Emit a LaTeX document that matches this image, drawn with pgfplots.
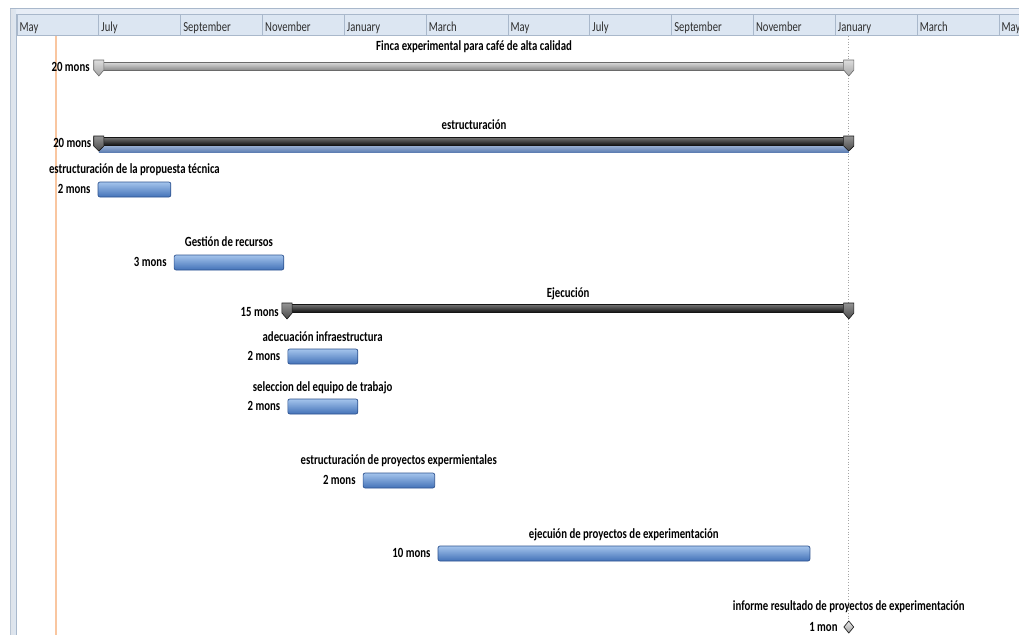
\documentclass[border=0pt]{standalone}
\usepackage{pgfplots}
\pgfplotsset{compat=1.18}
\usepackage{fontspec}
\setmainfont{Carlito}[FakeStretch=0.77]

\definecolor{hdr}{HTML}{DCE6F2}
\definecolor{hdrline}{HTML}{A9B8CB}
\definecolor{hdrtext}{HTML}{2E2E2E}
\definecolor{todayc}{HTML}{F9C6A0}
\definecolor{btop}{HTML}{A4C4EC}
\definecolor{bbot}{HTML}{4372B8}
\definecolor{bline}{HTML}{2E5390}
\definecolor{stop}{HTML}{7A7A7A}
\definecolor{sbot}{HTML}{151515}
\definecolor{gtop}{HTML}{DDDDDD}
\definecolor{gbot}{HTML}{8C8C8C}
\definecolor{gline}{HTML}{6A6A6A}
\definecolor{ptop}{HTML}{A9BDDB}
\definecolor{pbot}{HTML}{5F7FB3}

\newcommand{\taskbar}[4]{%
  \addplot[draw=bline, line width=0.7pt, top color=btop, bottom color=bbot, rounded corners=2pt]
    coordinates {(#1,#3) (#2,#3) (#2,#4) (#1,#4)} -- cycle;}
% left x, centre x, right x, top, shoulder, point, style
\newcommand{\sumcap}[7]{%
  \addplot[#7] coordinates {(#1,#4) (#3,#4) (#3,#5) (#2,#6) (#1,#5)} -- cycle;}
\newcommand{\monthcol}[2]{%
  \draw[hdrline, line width=0.8pt] (axis cs:#1,14) -- (axis cs:#1,35.5);
  \node[anchor=base west, inner sep=0pt, text=hdrtext, font=\fontsize{13.8}{15}\selectfont] at (axis cs:#1+0.06,31.5) {#2};}

\tikzset{lab/.style={font=\bfseries\fontsize{14}{16}\selectfont, text=black, inner sep=0pt, text height=7.2pt, text depth=2.2pt, yshift=-1.8pt},
         dur/.style={lab, anchor=east}}

\begin{document}
\begin{tikzpicture}
\begin{axis}[
  width=1019pt, height=635pt, scale only axis,
  xmin=-0.4155, xmax=24.49, ymin=0, ymax=635, y dir=reverse,
  axis lines=none, clip=false,
]
\coordinate (SW) at (axis cs:-0.4155,635);
\coordinate (NE) at (axis cs:24.49,0);
% background frame
\fill[white] (axis cs:-0.4155,0) rectangle (axis cs:24.49,635);
\fill[hdr!70!white] (axis cs:-0.17,9) rectangle (axis cs:24.49,14);
\draw[hdrline, line width=1pt] (axis cs:-0.17,8.5) -- (axis cs:24.49,8.5);
\fill[hdr] (axis cs:-0.024,14) rectangle (axis cs:24.49,35.5);
\draw[hdrline, line width=0.8pt] (axis cs:-0.024,14) -- (axis cs:24.49,14);
\draw[hdrline, line width=0.8pt] (axis cs:-0.024,35.5) -- (axis cs:24.49,35.5);
\fill[left color=hdr!80!gray!60, right color=hdr] (axis cs:-0.16,9) rectangle (axis cs:-0.024,635);
\draw[hdrline, line width=0.8pt] (axis cs:-0.024,14) -- (axis cs:-0.024,635);
\draw[hdrline!80!white, line width=0.6pt] (axis cs:-0.16,9) -- (axis cs:-0.16,635);
\monthcol{0}{May}
\monthcol{2}{July}
\monthcol{4}{September}
\monthcol{6}{November}
\monthcol{8}{January}
\monthcol{10}{March}
\monthcol{12}{May}
\monthcol{14}{July}
\monthcol{16}{September}
\monthcol{18}{November}
\monthcol{20}{January}
\monthcol{22}{March}
\monthcol{24}{May}
% today line and project end line
\draw[todayc, line width=1.2pt] (axis cs:0.953,36) -- (axis cs:0.953,635);
\draw[gray!70, line width=0.8pt, dotted] (axis cs:20.33,36) -- (axis cs:20.33,635);

% Finca experimental (project summary)
\addplot[draw=gline, line width=0.8pt, top color=gtop, bottom color=gbot] coordinates {(2.0,62) (20.33,62) (20.33,70) (2.0,70)} -- cycle;
\sumcap{1.875}{2.0}{2.125}{60}{70}{76}{draw=gline, line width=0.6pt, top color=gtop, bottom color=gbot!80}
\sumcap{20.205}{20.33}{20.455}{60}{70}{76}{draw=gline, line width=0.6pt, top color=gtop, bottom color=gbot!80}
\node[lab] at (axis cs:11.17,46) {Finca experimental para café de alta calidad};
\node[dur] at (axis cs:1.78,67) {20 mons};

% estructuracion (summary)
\addplot[draw=none, top color=ptop, bottom color=pbot] coordinates {(2.0,144) (20.33,144) (20.33,152) (2.0,152)} -- cycle;
\addplot[draw=sbot, line width=0.6pt, top color=stop, bottom color=sbot] coordinates {(2.0,137) (20.33,137) (20.33,145) (2.0,145)} -- cycle;
\sumcap{1.875}{2.0}{2.125}{136}{146}{151}{draw=sbot, line width=0.6pt, top color=stop!80!white, bottom color=stop!60!black}
\sumcap{20.205}{20.33}{20.455}{136}{146}{151}{draw=sbot, line width=0.6pt, top color=stop!80!white, bottom color=stop!60!black}
\node[lab] at (axis cs:11.17,125) {estructuración};
\node[dur] at (axis cs:1.82,143) {20 mons};

% estructuracion de la propuesta tecnica
\taskbar{1.98}{3.76}{182}{197}
\node[lab] at (axis cs:2.87,169) {estructuración de la propuesta técnica};
\node[dur] at (axis cs:1.80,189) {2 mons};

% Gestion de recursos
\taskbar{3.84}{6.52}{255}{270}
\node[lab] at (axis cs:5.18,242) {Gestión de recursos};
\node[dur] at (axis cs:3.66,262) {3 mons};

% Ejecucion (summary)
\addplot[draw=sbot, line width=0.6pt, top color=stop, bottom color=sbot] coordinates {(6.6,304) (20.33,304) (20.33,312) (6.6,312)} -- cycle;
\sumcap{6.475}{6.6}{6.725}{303}{313}{319}{draw=sbot, line width=0.6pt, top color=stop!80!white, bottom color=stop!60!black}
\sumcap{20.205}{20.33}{20.455}{303}{313}{319}{draw=sbot, line width=0.6pt, top color=stop!80!white, bottom color=stop!60!black}
\node[lab] at (axis cs:13.47,293) {Ejecución};
\node[dur] at (axis cs:6.40,312) {15 mons};

% adecuacion infraestructura
\taskbar{6.62}{8.33}{349}{364}
\node[lab] at (axis cs:7.47,337) {adecuación infraestructura};
\node[dur] at (axis cs:6.44,356) {2 mons};

% seleccion del equipo de trabajo
\taskbar{6.62}{8.33}{399}{414}
\node[lab] at (axis cs:7.47,387) {seleccion del equipo de trabajo};
\node[dur] at (axis cs:6.44,406) {2 mons};

% estructuracion de proyectos expermientales
\taskbar{8.46}{10.21}{473}{488}
\node[lab] at (axis cs:9.33,460) {estructuración de proyectos expermientales};
\node[dur] at (axis cs:8.28,480) {2 mons};

% ejecucion de proyectos de experimentacion
\taskbar{10.29}{19.38}{546}{561}
\node[lab] at (axis cs:14.83,534) {ejecuión de proyectos de experimentación};
\node[dur] at (axis cs:10.11,553) {10 mons};

% informe (milestone)
\addplot[draw=gray!30!black, line width=0.7pt, top color=gray!15, bottom color=gray!75] coordinates {(20.21,627) (20.33,621) (20.45,627) (20.33,633)} -- cycle;
\node[lab] at (axis cs:20.33,606) {informe resultado de proyectos de experimentación};
\node[dur] at (axis cs:20.06,627) {1 mon};
\end{axis}
\pgfresetboundingbox
\useasboundingbox (SW) rectangle (NE);
\end{tikzpicture}
\end{document}
